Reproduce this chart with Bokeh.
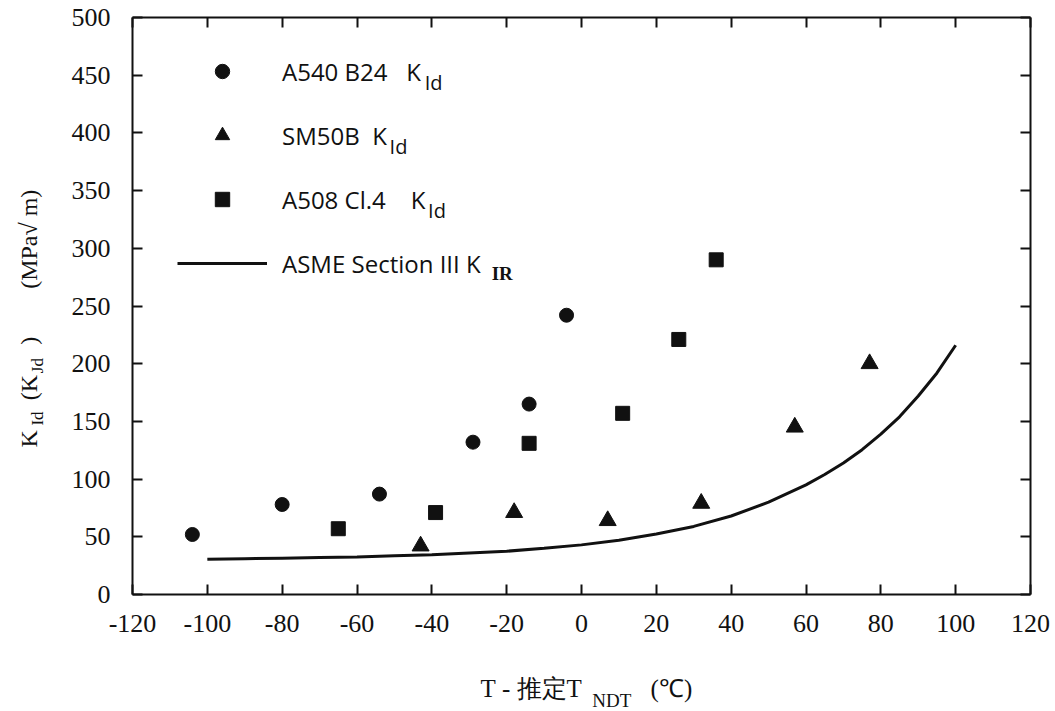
from bokeh.plotting import figure
from bokeh.models import Range1d, LinearAxis, FixedTicker, Label
from bokeh.embed import file_html
from bokeh.resources import INLINE

# ---------------- data ----------------
a540_x = [-104, -80, -54, -29, -14, -4]
a540_y = [52, 78, 87, 132, 165, 242]

sm50b_x = [-43, -18, 7, 32, 57, 77]
sm50b_y = [42, 71, 64, 79, 145, 200]

a508_x = [-65, -39, -14, 11, 26, 36]
a508_y = [57, 71, 131, 157, 221, 290]

asme_x = [-100, -90, -80, -70, -60, -50, -40, -30, -20, -10, 0,
          10, 20, 30, 40, 50, 60, 65, 70, 75, 80, 85, 90, 95, 100]
asme_y = [30.5, 31, 31.5, 32, 32.5, 33.5, 34.5, 36, 37.5, 40, 43,
          47, 52.5, 59, 68, 80, 95, 104, 114, 125.5, 139, 154, 172, 192, 216]

x_ticks = [-120, -100, -80, -60, -40, -20, 0, 20, 40, 60, 80, 100, 120]
x_tick_labels = ["-120", "-100", "-80", "-60", "-40", "-20", "0",
                 "20", "40", "60", "80", "100", "120"]
y_ticks = [0, 50, 100, 150, 200, 250, 300, 350, 400, 450, 500]
y_tick_labels = ["0", "50", "100", "150", "200", "250", "300",
                 "350", "400", "450", "500"]

NB = "\u00a0"
legend_labels = ["A540 B24" + NB * 3 + "K", "SM50B" + NB * 2 + "K",
                 "A508 Cl.4" + NB * 4 + "K", "ASME Section III K"]

INK = "#111111"
SERIF = "Liberation Serif"
SANS = "Open Sans"

p = figure(width=1055, height=711,
           x_range=Range1d(-120, 120), y_range=Range1d(0, 500),
           x_axis_type=None, y_axis_type=None,
           output_backend="svg", toolbar_location=None,
           min_border_left=132, min_border_right=25,
           min_border_top=17, min_border_bottom=117)
p.outline_line_color = None
p.background_fill_color = "white"
p.border_fill_color = "white"


def make_axis(ticks, labels=None, standoff=10):
    ax = LinearAxis(ticker=FixedTicker(ticks=ticks))
    ax.axis_line_color = INK
    ax.axis_line_width = 2
    ax.major_tick_line_color = INK
    ax.major_tick_line_width = 2
    ax.major_tick_in = 10
    ax.major_tick_out = 0
    ax.minor_tick_line_color = None
    ax.major_label_standoff = standoff
    if labels is not None:
        ax.major_label_overrides = {t: s for t, s in zip(ticks, labels)}
        ax.major_label_text_font = SERIF
        ax.major_label_text_font_size = "26px"
        ax.major_label_text_color = INK
    else:
        ax.major_label_text_font_size = "1px"
        ax.major_label_text_color = None
        ax.major_label_standoff = 0
    return ax


p.add_layout(make_axis(x_ticks, x_tick_labels, 20), "below")
p.add_layout(make_axis(y_ticks, y_tick_labels, 22), "left")
p.add_layout(make_axis(x_ticks), "above")
p.add_layout(make_axis(y_ticks), "right")

# ---------------- glyphs ----------------
p.scatter(a540_x, a540_y, marker="circle", size=14, color=INK,
          legend_label=legend_labels[0])
p.scatter(sm50b_x, sm50b_y, marker="triangle", size=17, color=INK,
          legend_label=legend_labels[1])
p.scatter(a508_x, a508_y, marker="square", size=14, color=INK,
          legend_label=legend_labels[2])
p.line(asme_x, asme_y, line_width=3, color=INK,
       legend_label=legend_labels[3])

lg = p.legend[0]
lg.location = (45, 313)
lg.orientation = "vertical"
lg.glyph_width = 90
lg.glyph_height = 36
lg.label_height = 36
lg.spacing = 28
lg.padding = 0
lg.margin = 0
lg.label_standoff = 15
lg.border_line_color = None
lg.background_fill_alpha = 0
lg.label_text_font = SANS
lg.label_text_font_size = "24px"
lg.label_text_color = INK

# legend subscripts
for txt, x, y, font, size in [
        ("Id", -41.9, 443.8, SANS, "20px"),
        ("Id", -51.3, 388.2, SANS, "20px"),
        ("Id", -41.0, 332.8, SANS, "20px"),
        ("IR", -24.0, 278.2, SERIF, "19px")]:
    lab = Label(x=x, y=y, text=txt, text_font=font, text_font_size=size,
                text_color=INK, text_baseline="middle", text_align="left")
    if font == SERIF:
        lab.text_font_style = "bold"
    p.add_layout(lab)

# ---------------- y-axis title (in the left panel, not clipped) -------------
y_title_main = "K" + NB * 5 + "(K" + NB * 5 + ")" + NB * 8 + "(MPa\u221a" + NB + "m)"
y_title_sub = "Id" + NB * 9 + "Jd"
p.add_layout(Label(x=-147.7, y=127.4, text=y_title_main, angle=1.5708,
                   text_font=SERIF, text_font_size="24px", text_color=INK,
                   text_align="left", text_baseline="alphabetic"), "left")
p.add_layout(Label(x=-145.4, y=146.4, text=y_title_sub, angle=1.5708,
                   text_font=SERIF, text_font_size="17px", text_color=INK,
                   text_align="left", text_baseline="alphabetic"), "left")

# ---------------- x-axis title (in the below panel) ----------------
x_title_main = "T" + NB + "-" + NB + "推定T" + NB * 11 + "(\u2103)"
x_title_sub = "NDT"
p.add_layout(Label(x=-27.0, y=-81.6, text=x_title_main,
                   text_font=SERIF, text_font_size="25px", text_color=INK,
                   text_align="left", text_baseline="alphabetic"), "below")
p.add_layout(Label(x=2.9, y=-91.5, text=x_title_sub,
                   text_font=SERIF, text_font_size="19px", text_color=INK,
                   text_align="left", text_baseline="alphabetic"), "below")

open("out.html", "w").write(file_html(p, INLINE))
